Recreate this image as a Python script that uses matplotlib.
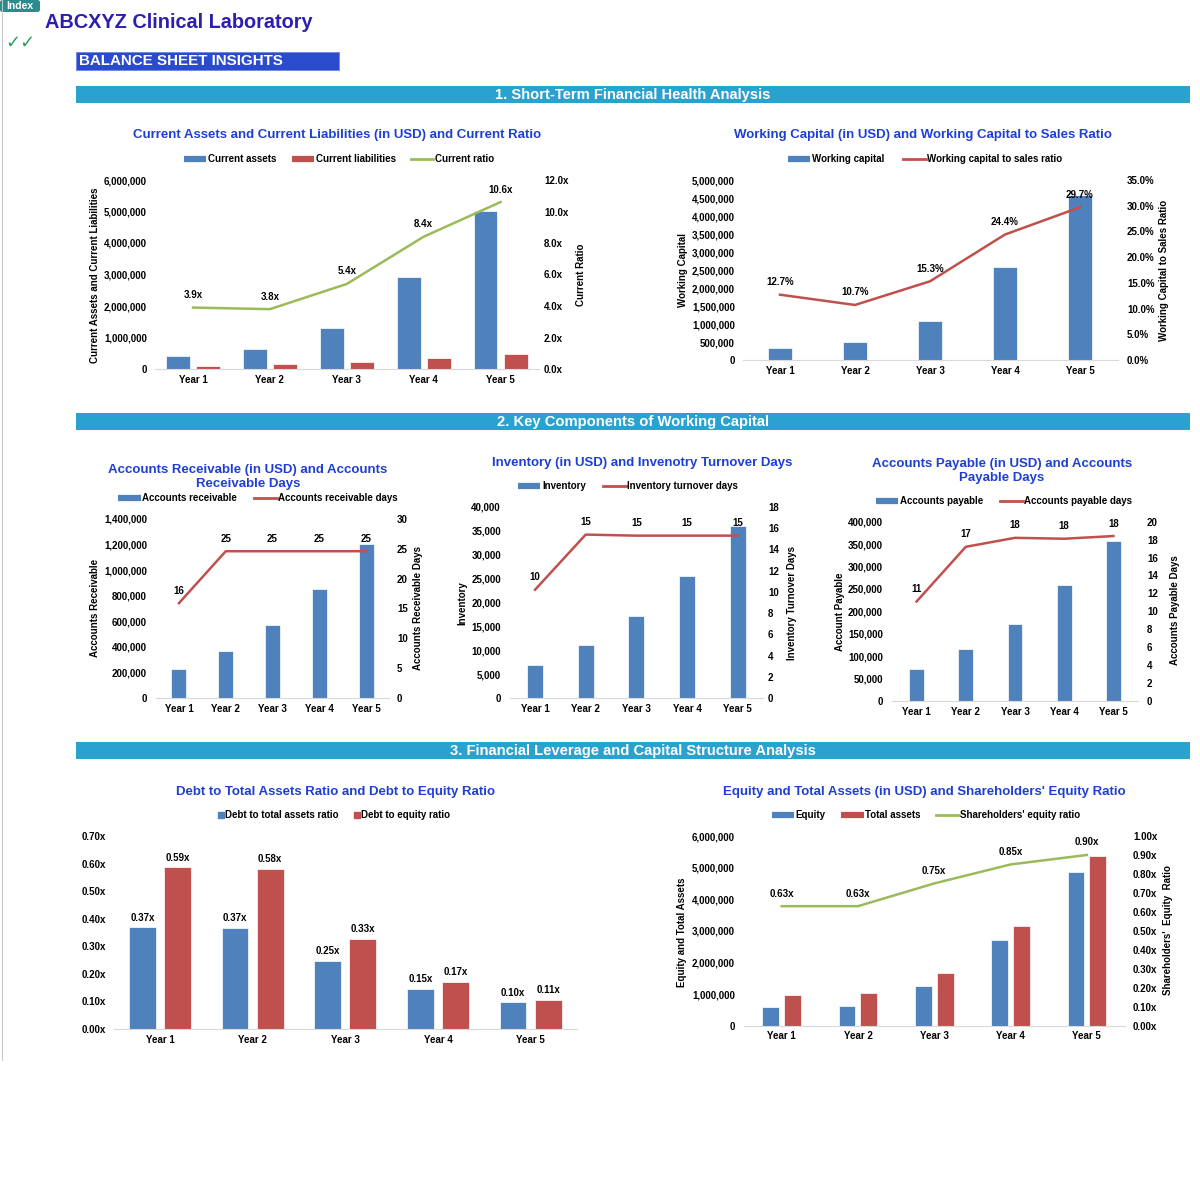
import matplotlib.pyplot as plt
from matplotlib.lines import Line2D
from matplotlib.patches import Rectangle, FancyBboxPatch
from matplotlib.ticker import FuncFormatter, MultipleLocator

plt.rcParams['font.family'] = ['Liberation Sans', 'DejaVu Sans']
plt.rcParams['font.weight'] = 'bold'

# ---- data ----
years = ['Year 1', 'Year 2', 'Year 3', 'Year 4', 'Year 5']

current_assets = [425000, 635000, 1290000, 2930000, 5030000]
current_liabilities = [110000, 165000, 235000, 345000, 465000]
current_ratio = [3.9, 3.8, 5.4, 8.4, 10.6]

working_capital = [342000, 491000, 1074000, 2593000, 4583000]
wc_to_sales = [12.7, 10.7, 15.3, 24.4, 29.7]

receivables = [229000, 368000, 568000, 852000, 1202000]
receivable_days = [15.9, 24.6, 24.6, 24.6, 24.6]

inventory = [6850, 11040, 17110, 25550, 36020]
inventory_days = [10.2, 15.4, 15.3, 15.3, 15.3]

payables = [70700, 116700, 171000, 258000, 357000]
payable_days = [11.1, 17.2, 18.2, 18.1, 18.4]

debt_to_assets = [0.369, 0.366, 0.246, 0.146, 0.097]
debt_to_equity = [0.586, 0.580, 0.326, 0.170, 0.106]

equity = [601000, 633000, 1256000, 2701000, 4852000]
total_assets = [961000, 1025000, 1657000, 3163000, 5377000]
equity_ratio = [0.63, 0.63, 0.75, 0.85, 0.90]

BLUE = '#4F81BD'
RED = '#C0504D'
GREEN = '#9BBB59'
TITLE = '#1F3FD4'
W = H = 1200

fig = plt.figure(figsize=(12, 12), dpi=100)
fig.patch.set_facecolor('white')

thousands = FuncFormatter(lambda v, p: f'{v:,.0f}')


def fx(x):
    return x / W


def fy(y):
    return 1 - y / H


def base_axes(x0, y0, x1, y1, ymax, step, fmt, lpad):
    ax = fig.add_axes([fx(x0), fy(y1), (x1 - x0) / W, (y1 - y0) / H])
    ax.set_xlim(-0.5, 4.5)
    ax.set_ylim(0, ymax)
    ax.yaxis.set_major_locator(MultipleLocator(step))
    ax.yaxis.set_major_formatter(fmt)
    ax.set_xticks(range(5))
    ax.set_xticklabels(years)
    for s in ['top', 'left', 'right']:
        ax.spines[s].set_visible(False)
    ax.spines['bottom'].set_color('#D9D9D9')
    ax.tick_params(length=0, labelsize=7, pad=4)
    ax.tick_params(axis='y', pad=lpad)
    ax.patch.set_alpha(0)
    return ax


def right_axes(ax, ymax, step, fmt, rpad):
    ax2 = ax.twinx()
    ax2.set_ylim(0, ymax)
    ax2.yaxis.set_major_locator(MultipleLocator(step))
    ax2.yaxis.set_major_formatter(fmt)
    for s in ax2.spines.values():
        s.set_visible(False)
    ax2.tick_params(length=0, labelsize=7, pad=rpad)
    return ax2


def labels(ax, vals, fmt, dy=9):
    for i, v in enumerate(vals):
        ax.annotate(fmt(v), (i, v), xytext=(0, dy), textcoords='offset points',
                    ha='center', va='center', fontsize=7)


def title(x, y, text):
    fig.text(fx(x), fy(y), text, ha='center', va='center', fontsize=9.5,
             color=TITLE, linespacing=1.15)


def ylab(x, y, text):
    fig.text(fx(x), fy(y), text, ha='center', va='center', rotation=90, fontsize=7)


def legend(ax, handles, names, x, y, colsp=1.6):
    ax.legend(handles, names, loc='center', bbox_to_anchor=(fx(x), fy(y)),
              bbox_transform=fig.transFigure, ncol=len(names), frameon=False,
              prop={'size': 7, 'weight': 'bold'}, handlelength=2.3,
              handletextpad=0.15, columnspacing=colsp)


def bar_h(c):
    return Line2D([], [], color=c, lw=4.5, solid_capstyle='butt')


def line_h(c):
    return Line2D([], [], color=c, lw=2)


# ---- header ----
fig.add_artist(Line2D([fx(1.5), fx(1.5)], [1, fy(1060)], color='#C8C8C8', lw=0.8))
fig.add_artist(FancyBboxPatch((0, fy(12)), fx(40), 12 / H, boxstyle='round,pad=0,rounding_size=0.002',
                              transform=fig.transFigure, facecolor='#2A8C8C', edgecolor='none'))
fig.text(fx(20), fy(6), 'Index', ha='center', va='center', fontsize=7.5, color='white')
fig.text(fx(45), fy(22), 'ABCXYZ Clinical Laboratory', ha='left', va='center',
         fontsize=14.3, color='#2C1FB0')
fig.text(fx(5), fy(43), '\u2713\u2713', ha='left', va='center', fontsize=13,
         color='#2E9E5B', weight='normal', style='italic')
fig.add_artist(Rectangle((fx(76), fy(70)), 263 / W, 18 / H, transform=fig.transFigure,
                         facecolor='#2B4BCF', edgecolor='#6F87E0', lw=0.6))
fig.text(fx(79), fy(61), 'BALANCE SHEET INSIGHTS', ha='left', va='center',
         fontsize=10.9, color='white')

sections = [(86, '1. Short-Term Financial Health Analysis'),
            (413, '2. Key Components of Working Capital'),
            (742, '3. Financial Leverage and Capital Structure Analysis')]
for ytop, txt in sections:
    fig.add_artist(Rectangle((fx(76), fy(ytop + 17)), 1114 / W, 17 / H,
                             transform=fig.transFigure, facecolor='#29A2CE',
                             edgecolor='none'))
    fig.text(fx(633), fy(ytop + 8.5), txt, ha='center', va='center',
             fontsize=10.6, color='white')

x = list(range(5))

# ---- chart 1: current assets / liabilities and current ratio ----
ax = base_axes(154.6, 180, 539, 369, 6000000, 1000000, thousands, 5.5)
ax.bar([i - 0.196 for i in x], current_assets, 0.31, color=BLUE, edgecolor='white', lw=0.5)
ax.bar([i + 0.196 for i in x], current_liabilities, 0.31, color=RED, edgecolor='white', lw=0.5)
ax2 = right_axes(ax, 12, 2, FuncFormatter(lambda v, p: f'{v:.1f}x'), 3.6)
ax2.plot(x, current_ratio, color=GREEN, lw=1.8)
labels(ax2, current_ratio, lambda v: f'{v:.1f}x')
title(337.5, 135, 'Current Assets and Current Liabilities (in USD) and Current Ratio')
legend(ax, [bar_h(BLUE), bar_h(RED), line_h(GREEN)],
       ['Current assets', 'Current liabilities', 'Current ratio'], 339, 159)
ylab(95, 275, 'Current Assets and Current Liabilities')
ylab(581, 275, 'Current Ratio')

# ---- chart 2: working capital ----
ax = base_axes(742.5, 180, 1117.5, 360, 5000000, 500000, thousands, 5.4)
ax.bar(x, working_capital, 0.31, color=BLUE, edgecolor='white', lw=0.5)
ax2 = right_axes(ax, 35, 5, FuncFormatter(lambda v, p: f'{v:.1f}%'), 6.8)
ax2.plot(x, wc_to_sales, color=RED, lw=1.8)
labels(ax2, wc_to_sales, lambda v: f'{v:.1f}%')
title(922.5, 135, 'Working Capital (in USD) and Working Capital to Sales Ratio')
legend(ax, [bar_h(BLUE), line_h(RED)],
       ['Working capital', 'Working capital to sales ratio'], 925, 159, 2.0)
ylab(683, 270, 'Working Capital')
ylab(1164, 270, 'Working Capital to Sales Ratio')

# ---- chart 3: accounts receivable ----
ax = base_axes(155.6, 519, 389.4, 698, 1400000, 200000, thousands, 6.2)
ax.bar(x, receivables, 0.32, color=BLUE, edgecolor='white', lw=0.5)
ax2 = right_axes(ax, 30, 5, FuncFormatter(lambda v, p: f'{v:.0f}'), 5.5)
ax2.plot(x, receivable_days, color=RED, lw=1.8)
labels(ax2, receivable_days, lambda v: f'{v:.0f}')
title(248, 477, 'Accounts Receivable (in USD) and Accounts\nReceivable Days')
legend(ax, [bar_h(BLUE), line_h(RED)],
       ['Accounts receivable', 'Accounts receivable days'], 258, 498, 1.8)
ylab(95, 608, 'Accounts Receivable')
ylab(418, 608, 'Accounts Receivable Days')

# ---- chart 4: inventory ----
ax = base_axes(509.7, 507, 763, 698, 40000, 5000, thousands, 6.3)
ax.bar(x, inventory, 0.32, color=BLUE, edgecolor='white', lw=0.5)
ax2 = right_axes(ax, 18, 2, FuncFormatter(lambda v, p: f'{v:.0f}'), 3.6)
ax2.plot(x, inventory_days, color=RED, lw=1.8)
labels(ax2, inventory_days, lambda v: f'{v:.0f}')
title(642.5, 463, 'Inventory (in USD) and Invenotry Turnover Days')
legend(ax, [bar_h(BLUE), line_h(RED)],
       ['Inventory', 'Inventory turnover days'], 628, 486, 1.8)
ylab(462, 603, 'Inventory')
ylab(792, 603, 'Inventory Turnover Days')

# ---- chart 5: accounts payable ----
ax = base_axes(892, 521.7, 1138, 701, 400000, 50000, thousands, 6.5)
ax.bar(x, payables, 0.30, color=BLUE, edgecolor='white', lw=0.5)
ax2 = right_axes(ax, 20, 2, FuncFormatter(lambda v, p: f'{v:.0f}'), 6.5)
ax2.plot(x, payable_days, color=RED, lw=1.8)
labels(ax2, payable_days, lambda v: f'{v:.0f}')
title(1002, 471, 'Accounts Payable (in USD) and Accounts\nPayable Days')
legend(ax, [bar_h(BLUE), line_h(RED)],
       ['Accounts payable', 'Accounts payable days'], 1004, 501, 1.8)
ylab(840, 612, 'Account Payable')
ylab(1175, 610, 'Accounts Payable Days')

# ---- chart 6: debt ratios ----
ax = base_axes(113.6, 836, 577, 1029, 0.70, 0.10,
               FuncFormatter(lambda v, p: f'{v:.2f}x'), 5.5)
b1 = ax.bar([i - 0.19 for i in x], debt_to_assets, 0.29, color=BLUE, edgecolor='white', lw=0.5)
b2 = ax.bar([i + 0.19 for i in x], debt_to_equity, 0.29, color=RED, edgecolor='white', lw=0.5)
for bars, vals in [(b1, debt_to_assets), (b2, debt_to_equity)]:
    for r, v in zip(bars, vals):
        ax.annotate(f'{v:.2f}x', (r.get_x() + r.get_width() / 2, v), xytext=(0, 7),
                    textcoords='offset points', ha='center', va='center', fontsize=7)
title(335, 792, 'Debt to Total Assets Ratio and Debt to Equity Ratio')
sq = [Line2D([], [], marker='s', ls='none', color=c, markersize=4.5) for c in (BLUE, RED)]
ax.legend(sq, ['Debt to total assets ratio', 'Debt to equity ratio'], loc='center',
          bbox_to_anchor=(fx(334), fy(815)), bbox_transform=fig.transFigure, ncol=2,
          frameon=False, prop={'size': 7, 'weight': 'bold'}, handlelength=0.6,
          handletextpad=0.1, columnspacing=1.6)

# ---- chart 7: equity and total assets ----
ax = base_axes(743.5, 836, 1125, 1025.7, 6000000, 1000000, thousands, 6.1)
ax.bar([i - 0.143 for i in x], equity, 0.22, color=BLUE, edgecolor='white', lw=0.5)
ax.bar([i + 0.143 for i in x], total_assets, 0.22, color=RED, edgecolor='white', lw=0.5)
ax2 = right_axes(ax, 1.0, 0.1, FuncFormatter(lambda v, p: f'{v:.2f}x'), 5.8)
ax2.plot(x, equity_ratio, color=GREEN, lw=1.8)
labels(ax2, equity_ratio, lambda v: f'{v:.2f}x')
title(924.5, 792, "Equity and Total Assets (in USD) and Shareholders' Equity Ratio")
legend(ax, [bar_h(BLUE), bar_h(RED), line_h(GREEN)],
       ['Equity', 'Total assets', "Shareholders' equity ratio"], 926, 815)
ylab(682, 932, 'Equity and Total Assets')
ylab(1168, 930, "Shareholders'  Equity  Ratio")

fig.savefig('out.png', dpi=100, facecolor='white')
